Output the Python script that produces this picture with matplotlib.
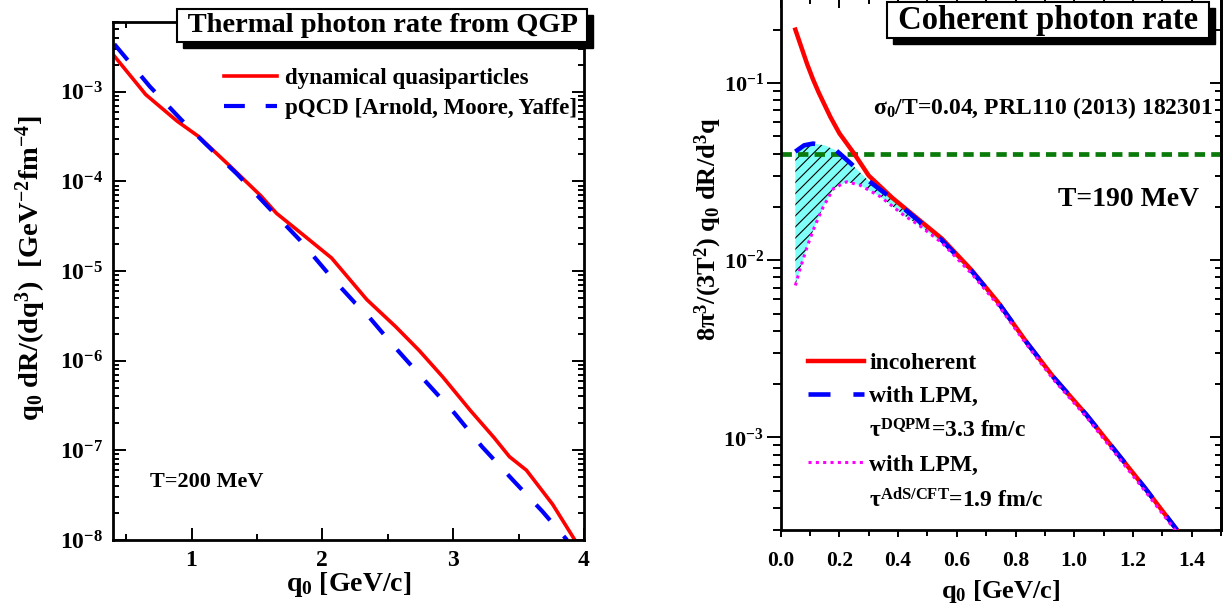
import numpy as np
import matplotlib
matplotlib.use("Agg")
import matplotlib.pyplot as plt
from matplotlib.lines import Line2D
from matplotlib.patches import Rectangle
from matplotlib.ticker import MultipleLocator, NullFormatter, FormatStrFormatter
from matplotlib import transforms

plt.rcParams['font.family'] = ['Liberation Serif', 'DejaVu Serif']
plt.rcParams['font.weight'] = 'bold'
plt.rcParams['axes.labelweight'] = 'bold'
plt.rcParams['mathtext.fontset'] = 'custom'
plt.rcParams['mathtext.rm'] = 'Liberation Serif:bold'
plt.rcParams['mathtext.bf'] = 'Liberation Serif:bold'
plt.rcParams['mathtext.it'] = 'Liberation Serif:italic:bold'
plt.rcParams['mathtext.default'] = 'bf'
plt.rcParams['hatch.linewidth'] = 0.8

# ---- left panel: thermal photon rate, T=200 MeV
dqp_q0 = [0.41, 0.65, 0.89, 1.05, 1.29, 1.53, 1.65, 1.83, 2.07, 2.34,
          2.56, 2.74, 2.92, 3.13, 3.31, 3.43, 3.56, 3.76, 3.93]
dqp_rate = [2.5e-3, 9.3e-4, 4.7e-4, 3.2e-4, 1.5e-4, 6.9e-5, 4.4e-5, 2.7e-5, 1.4e-5, 4.8e-6,
            2.4e-6, 1.3e-6, 6.6e-7, 2.8e-7, 1.4e-7, 8.5e-8, 6.0e-8, 2.5e-8, 1.0e-8]
amy_q0 = [0.41, 0.68, 0.92, 1.11, 1.35, 1.59, 1.83, 2.07, 2.25, 2.31,
          2.53, 2.77, 3.01, 3.22, 3.46, 3.68, 3.87]
amy_rate = [3.4e-3, 1.15e-3, 4.9e-4, 2.6e-4, 1.2e-4, 5.1e-5, 2.2e-5, 8.5e-6, 4.4e-6, 3.7e-6,
            1.55e-6, 6.3e-7, 2.6e-7, 1.1e-7, 4.6e-8, 2.1e-8, 1.0e-8]

# ---- right panel: coherent photon rate, T=190 MeV
inc_q0 = [0.05, 0.07, 0.09, 0.11, 0.13, 0.15, 0.17, 0.20, 0.25, 0.30, 0.38,
          0.46, 0.55, 0.65, 0.74, 0.84, 0.93, 1.04, 1.13, 1.24, 1.35]
inc_rate = [0.200, 0.160, 0.128, 0.105, 0.088, 0.075, 0.064, 0.052, 0.040, 0.030, 0.0225,
            0.0175, 0.0132, 0.0088, 0.0058, 0.0034, 0.00218, 0.00135, 0.00088, 0.00052, 0.00030]
dqpm_q0 = [0.05, 0.08, 0.11, 0.15, 0.19, 0.24, 0.30, 0.38, 0.46, 0.55,
           0.65, 0.74, 0.84, 0.93, 1.04, 1.13, 1.24, 1.35]
dqpm_rate = [0.041, 0.0445, 0.0455, 0.0445, 0.0415, 0.035, 0.028, 0.0222, 0.0172, 0.0129,
             0.0087, 0.0058, 0.0034, 0.00218, 0.00135, 0.00088, 0.00052, 0.00030]
ads_q0 = [0.05, 0.065, 0.09, 0.115, 0.145, 0.18, 0.225, 0.27, 0.34, 0.42, 0.47,
          0.55, 0.65, 0.74, 0.84, 0.93, 1.04, 1.13, 1.24, 1.35]
ads_rate = [0.0072, 0.0088, 0.0119, 0.0154, 0.020, 0.0254, 0.0277, 0.0265, 0.0228, 0.0179, 0.0158,
            0.0125, 0.0084, 0.0056, 0.0033, 0.00211, 0.00131, 0.00085, 0.00050, 0.00029]
sigma_level = 0.04
fill_qmax = 0.74

fig = plt.figure(figsize=(12.3, 6.11), dpi=100)
ax1 = fig.add_axes([0.0919, 0.1162, 0.3829, 0.8478])
ax2 = fig.add_axes([0.6347, 0.1326, 0.3580, 0.8699])

titles = []


def title_box(ax, x, y, s, size, pad):
    t = ax.text(x, y, s, transform=ax.transAxes, ha='center', va='center', fontsize=size,
                clip_on=False, zorder=10,
                bbox=dict(boxstyle='square,pad=%g' % pad, fc='white', ec='black', lw=1.5))
    titles.append((ax, t))


# ---------------- left
l1, = ax1.plot(dqp_q0, dqp_rate, color='red', lw=2.6, label='dynamical quasiparticles')
l2, = ax1.plot(amy_q0, amy_rate, color='blue', lw=3.0, ls=(0, (5, 5)),
               label='pQCD [Arnold, Moore, Yaffe]')
ax1.set_yscale('log')
ax1.set_xlim(0.4, 4.0)
ax1.set_ylim(1e-8, 6e-3)
ax1.xaxis.set_major_locator(MultipleLocator(1))
ax1.xaxis.set_minor_locator(MultipleLocator(0.5))
ax1.yaxis.set_minor_formatter(NullFormatter())
ax1.tick_params(which='both', direction='in', top=True, right=True, width=1.4)
ax1.tick_params(which='major', length=9, labelsize=17, pad=7)
ax1.tick_params(which='minor', length=4.5)
for sp in ax1.spines.values():
    sp.set_linewidth(2)
ax1.set_xlabel('q$_0$ [GeV/c]', fontsize=20)
ax1.xaxis.set_label_coords(0.5, -0.058)
ax1.set_ylabel('q$_0$ dR/(dq$^3$)  [GeV$^{-2}$fm$^{-4}$]', fontsize=20.5)
ax1.yaxis.set_label_coords(-0.138, 0.525)
ax1.legend(handles=[l1, l2], loc='upper left', bbox_to_anchor=(0.236, 0.912),
           frameon=False, fontsize=16.5, handlelength=2.3, handletextpad=0.35,
           borderaxespad=0, borderpad=0, labelspacing=0.4)
ax1.text(0.0786, 0.1125, 'T=200 MeV', transform=ax1.transAxes, va='center', fontsize=16)
title_box(ax1, 0.571, 0.994, ' Thermal photon rate from QGP ', 20.5, 0.14)

# ---------------- right
fill_x = [q for q in dqpm_q0 if q <= fill_qmax]
fill_top = dqpm_rate[:len(fill_x)]
fill_xb = [q for q in ads_q0 if q <= fill_qmax]
fill_bot = ads_rate[:len(fill_xb)]
ax2.fill(fill_x + fill_xb[::-1], fill_top + fill_bot[::-1], facecolor='#80FFF8',
         edgecolor='black', hatch='///', lw=0, zorder=1)
ax2.axhline(sigma_level, color='#0A7A0A', lw=3.4, ls=(0, (2.2, 1.3)), zorder=2)
r1, = ax2.plot(inc_q0, inc_rate, color='red', lw=3.2, zorder=3, label='incoherent')
r2, = ax2.plot(dqpm_q0, dqpm_rate, color='blue', lw=3.3, ls=(0, (4.8, 5)), zorder=4,
               label='with LPM,')
r3, = ax2.plot(ads_q0, ads_rate, color='magenta', lw=2.2, ls=(0, (1, 1.4)), zorder=5,
               label='with LPM,')
ax2.set_yscale('log')
ax2.set_xlim(0, 1.5)
ax2.set_ylim(3e-4, 0.3)
ax2.xaxis.set_major_locator(MultipleLocator(0.2))
ax2.xaxis.set_minor_locator(MultipleLocator(0.1))
ax2.xaxis.set_major_formatter(FormatStrFormatter('%.1f'))
ax2.yaxis.set_minor_formatter(NullFormatter())
ax2.tick_params(which='both', direction='out', width=1.4)
ax2.tick_params(axis='y', which='major', length=10, labelsize=16, pad=2)
ax2.tick_params(axis='y', which='minor', length=5.5)
ax2.tick_params(axis='x', which='major', length=5, labelsize=15.5, pad=10)
ax2.tick_params(axis='x', which='minor', length=4)
for sp in ax2.spines.values():
    sp.set_linewidth(2)

sec_y = ax2.secondary_yaxis('right')
sec_y.tick_params(which='both', direction='in', width=1.4)
sec_y.tick_params(which='major', length=8)
sec_y.tick_params(which='minor', length=4.5)
sec_y.yaxis.set_major_formatter(NullFormatter())
sec_y.yaxis.set_minor_formatter(NullFormatter())
sec_y.spines['right'].set_linewidth(2)
sec_x = ax2.secondary_xaxis('top')
sec_x.xaxis.set_major_locator(MultipleLocator(0.2))
sec_x.xaxis.set_minor_locator(MultipleLocator(0.1))
sec_x.tick_params(which='both', direction='in', width=1.4)
sec_x.tick_params(which='major', length=7)
sec_x.tick_params(which='minor', length=4)
sec_x.xaxis.set_major_formatter(NullFormatter())
sec_x.spines['top'].set_linewidth(2)

ax2.set_xlabel('q$_0$ [GeV/c]', fontsize=19)
ax2.xaxis.set_label_coords(0.5, -0.09)
ax2.set_ylabel('8π$^3$/(3T$^2$) q$_0$ dR/d$^3$q', fontsize=19)
ax2.yaxis.set_label_coords(-0.129, 0.566)

blank = Line2D([], [], ls='none')
ax2.legend(handles=[r1, r2, blank, r3, blank],
           labels=['incoherent', 'with LPM,', 'τ$^{DQPM}$=3.3 fm/c', 'with LPM,',
                   'τ$^{AdS/CFT}$=1.9 fm/c'],
           loc='upper left', bbox_to_anchor=(0.061, 0.334), frameon=False, fontsize=17,
           handlelength=2.37, handletextpad=0.25, borderaxespad=0, borderpad=0,
           labelspacing=0.5)
ax2.text(0.981, 0.794, 'σ$_0$/T=0.04, PRL110 (2013) 182301', transform=ax2.transAxes,
         ha='right', va='center', fontsize=17)
ax2.text(0.951, 0.621, 'T=190 MeV', transform=ax2.transAxes, ha='right', va='center',
         fontsize=20)
title_box(ax2, 0.607, 0.959, ' Coherent photon rate ', 23.5, 0.08)

# drop shadows behind the title boxes
fig.canvas.draw()
renderer = fig.canvas.get_renderer()
for ax, t in titles:
    bb = t.get_bbox_patch().get_window_extent(renderer)
    ax.add_artist(Rectangle((bb.x0 + 6, bb.y0 - 6), bb.width, bb.height,
                            transform=transforms.IdentityTransform(), fc='black',
                            ec='black', zorder=9, clip_on=False))

fig.savefig('out.png', dpi=100)
